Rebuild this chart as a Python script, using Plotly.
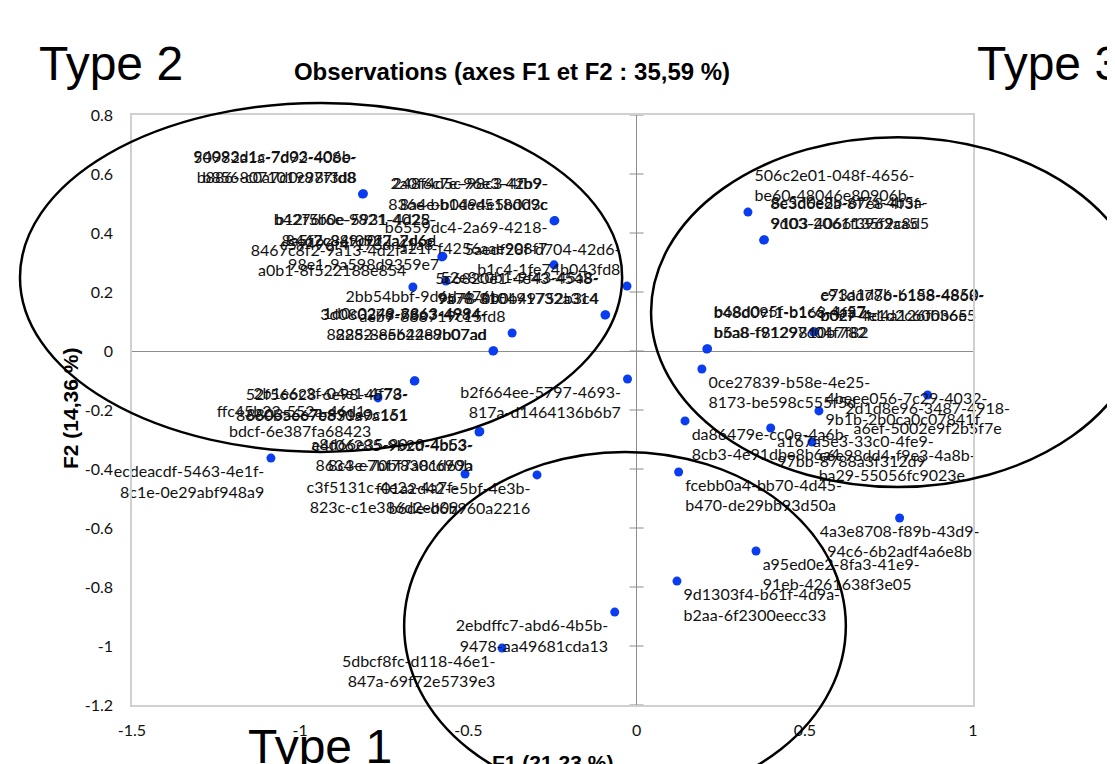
import plotly.graph_objects as go

# ---------------- data ----------------
obs_x = [-0.815, -0.812, -0.2455, -0.243, -0.579, -0.576, -0.2455, -0.567, -0.665,
         -0.0285, -0.094, -0.092, -0.370, -0.427, -0.425,
         -0.661, -0.659, -0.769, -0.4685, -0.466, -1.087, -0.510, -0.296, -0.027,
         -0.400, -0.065,
         0.331, 0.3775, 0.380, 0.2087, 0.211, 0.526, 0.528, 0.194, 0.865, 0.542,
         0.3986, 0.5214, 0.1439, 0.1249, 0.7818, 0.355, 0.120]
obs_y = [0.532, 0.533, 0.441, 0.442, 0.319, 0.321, 0.292, 0.237, 0.217,
         0.220, 0.122, 0.123, 0.061, 0.000, 0.001,
         -0.102, -0.101, -0.159, -0.2746, -0.273, -0.363, -0.417, -0.420, -0.095,
         -1.007, -0.885,
         0.471, 0.376, 0.377, 0.0068, 0.008, 0.064, 0.065, -0.061, -0.149, -0.203,
         -0.261, -0.3085, -0.237, -0.410, -0.566, -0.678, -0.780]
obs_id = [
    "50982a1a-7d92-408e-<br>b886-8071019877fd8",
    "94093d1c-7d03-406b-<br>b856-c0a7d0c98f3d8",
    "248f4d5c-98c3-4fb9-<br>836e-bb14ed518d09c",
    "2a0f6c7e-96e3-42b9-<br>8a4e-b0d94e5b0d3c",
    "b4276f6e-9821-4025-<br>8467c889d0f2a7d6e",
    "b12f5b0e-5931-4d28-<br>8a5f2c84f0927a2d6d",
    "b6559dc4-2a69-4218-<br>a21f-f4256aae908f7",
    "c59496f4-173d-41a8-<br>98e1-9a598d9359e7",
    "8467c8f2-9a13-4d2f-<br>a0b1-8f522188e854",
    "5aedf28f-d704-42d6-<br>b1c4-1fe74b043fd8",
    "5c6820e1-4e43-4548-<br>9a78-810491732a314",
    "52e8c0b1-9f43-45a8-<br>9b78-8b0b49752b3c4",
    "2bb54bbf-9d6d-476b-<br>aeb9-888719c15fd8",
    "3d080278-7863-4984-<br>8282-8e624e8b07ad",
    "1d0c0249-8863-4994-<br>8285-8e5b4289b07ad",
    "52f56628-6e98-4578-<br>8660b5e67e830a9a161",
    "2b1e6c3f-04e1-4f73-<br>8803a6e7b891e0c151",
    "ffc45b22-552a-46d1-<br>bdcf-6e387fa68423",
    "e4f06285-9b2d-4bb3-<br>8634-e7bf7830c690b",
    "a8d66e35-90c0-4b53-<br>8c3e-70bf7a81d69a",
    "ecdeacdf-5463-4e1f-<br>8c1e-0e29abf948a9",
    "c3f5131c-4e2a-4a7f-<br>823c-c1e386d2eb09",
    "f01a2d42-e5bf-4e3b-<br>b6de-d6b960a2216",
    "b2f664ee-5797-4693-<br>817a-d1464136b6b7",
    "5dbcf8fc-d118-46e1-<br>847a-69f72e5739e3",
    "2ebdffc7-abd6-4b5b-<br>9478-aa49681cda13",
    "506c2e01-048f-4656-<br>be60-48046e80906b",
    "8e3d6e2a-87e8-4f3f-<br>9d03-2061f3962aa5",
    "8c5d0e8b-6f7a-4b5a-<br>9103-4066135f9c8d5",
    "b48d09f1-b168-4f37-<br>b5a8-f91297c04f782",
    "b68d0e5f-b1c6-4a57-<br>b6a8-f8129810b7f82",
    "c91dd786-b188-4868-<br>b02f-4e1d2c60b365",
    "e73a1d7b-6158-4850-<br>b0c7-4d4a126f0b6e5",
    "0ce27839-b58e-4e25-<br>8173-be598c555f5d",
    "2d1d8e96-3487-4918-<br>a6ef-5002e9f2b5f7e",
    "4beee056-7c29-4032-<br>9b1b-2b0ca0c07841f",
    "a167a5e3-33c0-4fe9-<br>97bb-8788a3f312d9",
    "c6e98dd4-f9e3-4a8b-<br>ba29-55056fc9023e",
    "da86479e-cc0e-4a6b-<br>8cb3-4e91dbe8b6a4",
    "fcebb0a4-bb70-4d45-<br>b470-de29bb93d50a",
    "4a3e8708-f89b-43d9-<br>94c6-6b2adf4a6e8b",
    "a95ed0e2-8fa3-41e9-<br>91eb-4261638f3e05",
    "9d1303f4-b61f-4d9a-<br>b2aa-6f2300eecc33",
]
# label placement for each observation (layout only)
label_pos = (["top left"] * 15 +
             ["bottom left"] * 11 +
             ["top right"] * 7 +
             ["bottom right", "bottom center", "middle right",
              "bottom right", "bottom right", "bottom right", "bottom right",
              "bottom center", "bottom right", "bottom right"])

x_ticks = [-1.5, -1, -0.5, 0, 0.5, 1]
x_tick_text = ["-1.5", "-1", "-0.5", "0", "0.5", "1"]
y_ticks = [0.8, 0.6, 0.4, 0.2, 0, -0.2, -0.4, -0.6, -0.8, -1, -1.2]
y_tick_text = ["0.8", "0.6", "0.4", "0.2", "0", "-0.2", "-0.4", "-0.6", "-0.8", "-1", "-1.2"]

# group outlines in data units: (x0, x1, y0, y1)
group_names = ["Type 2", "Type 3", "Type 1"]
group_bounds = [(-1.833, -0.043, -0.342, 0.841),
                (0.043, 1.511, -0.461, 0.725),
                (-0.691, 0.622, -1.522, -0.342)]

title_text = "Observations (axes F1 et F2 : 35,59 %)"
x_title = "F1 (21,23 %)"
y_title = "F2 (14,36 %)"

# ---------------- figure ----------------
XR = (-1.5, 1.0)
YR = (-1.2, 0.8)
OFF = 8                      # page body margin of the html page
W, H = 1115 - OFF, 764 - OFF
# plot area in screen pixels: x 132..973, y 115..705
ML = 132 - OFF
MT = 115 - OFF
MR = W + OFF - 973
MB = H + OFF - 705

def px2paper_x(px):
    return (px - 132) / (973 - 132)

def px2paper_y(py):
    return (705 - py) / (705 - 115)

def dx2p(x):
    return (x - XR[0]) / (XR[1] - XR[0])

def dy2p(y):
    return (y - YR[0]) / (YR[1] - YR[0])

fig = go.Figure()

# tick marks along the vertical zero axis
fig.add_trace(go.Scatter(
    x=[0] * len(y_ticks), y=y_ticks, mode="markers",
    marker=dict(symbol="line-ew", size=10, line=dict(color="#8c8c8c", width=1)),
    hoverinfo="skip", showlegend=False, cliponaxis=False))

fig.add_trace(go.Scatter(
    x=obs_x, y=obs_y, mode="markers+text",
    text=obs_id, textposition=label_pos,
    textfont=dict(family="Lato, Noto Sans, sans-serif", size=16, color="#111111"),
    marker=dict(color="#0a3cf0", size=9),
    cliponaxis=False, showlegend=False))

shapes = []
for (x0, x1, y0, y1) in group_bounds:
    shapes.append(dict(type="circle", xref="paper", yref="paper",
                       x0=dx2p(x0), x1=dx2p(x1), y0=dy2p(y0), y1=dy2p(y1),
                       line=dict(color="black", width=2.5), layer="above"))

annotations = []
type_font = dict(family="Liberation Sans, Arial", size=48, color="black")
annotations.append(dict(text=group_names[0], xref="paper", yref="paper",
                        x=px2paper_x(111), y=px2paper_y(63), xanchor="center", yanchor="middle",
                        showarrow=False, font=type_font))
annotations.append(dict(text=group_names[1], xref="paper", yref="paper",
                        x=px2paper_x(975), y=px2paper_y(63), xanchor="left", yanchor="middle",
                        showarrow=False, font=type_font))
annotations.append(dict(text=group_names[2], xref="paper", yref="paper",
                        x=px2paper_x(320), y=px2paper_y(746), xanchor="center", yanchor="middle",
                        showarrow=False, font=type_font))
axis_font = dict(family="Liberation Sans, Arial", size=21, color="black")
annotations.append(dict(text="<b>" + x_title + "</b>", xref="paper", yref="paper",
                        x=px2paper_x(552), y=px2paper_y(762), xanchor="center", yanchor="middle",
                        showarrow=False, font=axis_font))
annotations.append(dict(text="<b>" + y_title + "</b>", xref="paper", yref="paper",
                        x=px2paper_x(70), y=px2paper_y(409), xanchor="center", yanchor="middle",
                        textangle=-90, showarrow=False, font=axis_font))

tick_font = dict(family="Lato, Noto Sans, sans-serif", size=16, color="#111111")
fig.update_layout(
    width=W, height=H, autosize=False,
    margin=dict(l=ML, r=MR, t=MT, b=MB),
    paper_bgcolor="white", plot_bgcolor="white",
    title=dict(text="<b>" + title_text + "</b>", x=px2paper_x(512), xref="paper",
               y=1 - (72 - OFF) / H, yref="container", xanchor="center", yanchor="middle",
               font=dict(family="Liberation Sans, Arial", size=24, color="black")),
    xaxis=dict(range=list(XR), tickvals=x_ticks, ticktext=x_tick_text,
               showgrid=False, zeroline=True, zerolinecolor="#8c8c8c", zerolinewidth=1,
               showline=True, mirror=True, linecolor="#d0d0d0", linewidth=1.5,
               ticks="", tickfont=tick_font, ticklabelstandoff=10),
    yaxis=dict(range=list(YR), tickvals=y_ticks, ticktext=y_tick_text,
               showgrid=False, zeroline=True, zerolinecolor="#8c8c8c", zerolinewidth=1,
               showline=True, mirror=True, linecolor="#d0d0d0", linewidth=1.5,
               ticks="", tickfont=tick_font, ticklabelstandoff=14),
    shapes=shapes, annotations=annotations,
)

fig.write_html("out.html")
